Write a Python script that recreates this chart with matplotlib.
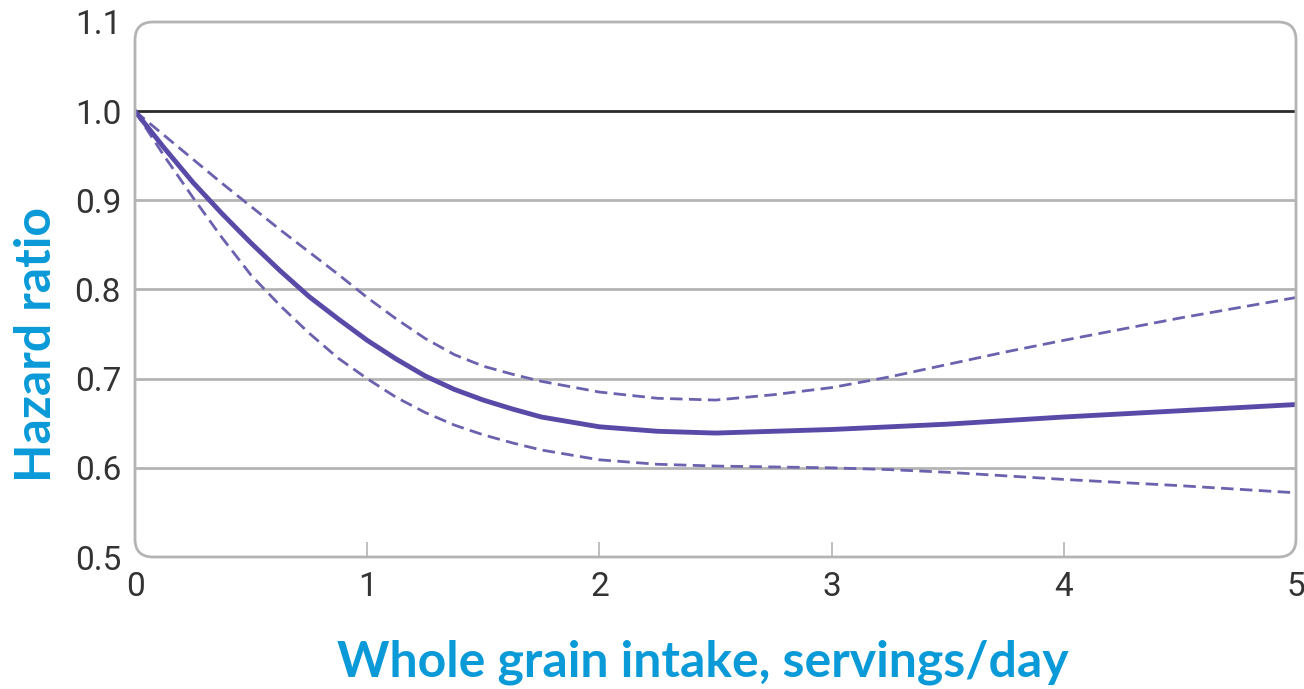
import matplotlib
matplotlib.use("Agg")
import matplotlib.pyplot as plt
from matplotlib.patches import FancyBboxPatch
from matplotlib.transforms import IdentityTransform

# values
intake = [0, 0.125, 0.25, 0.375, 0.5, 0.625, 0.75, 0.875, 1.0, 1.125, 1.25, 1.375, 1.5,
          1.625, 1.75, 2.0, 2.25, 2.5, 2.75, 3.0, 3.25, 3.5, 3.75, 4.0, 4.5, 5.0]
hr = [1.0, 0.959, 0.920, 0.885, 0.852, 0.821, 0.792, 0.767, 0.743, 0.722, 0.703, 0.688, 0.676,
      0.666, 0.657, 0.646, 0.641, 0.639, 0.641, 0.643, 0.646, 0.649, 0.653, 0.657, 0.664, 0.671]
upper = [1.0, 0.973, 0.946, 0.919, 0.893, 0.867, 0.842, 0.817, 0.791, 0.767, 0.745, 0.727, 0.714,
         0.705, 0.697, 0.685, 0.678, 0.676, 0.682, 0.690, 0.702, 0.716, 0.730, 0.743, 0.768, 0.791]
lower = [1.0, 0.950, 0.903, 0.858, 0.816, 0.782, 0.751, 0.723, 0.700, 0.679, 0.662, 0.648, 0.637,
         0.628, 0.620, 0.609, 0.604, 0.602, 0.601, 0.600, 0.598, 0.595, 0.591, 0.587, 0.580, 0.572]

x_ticks = [0, 1, 2, 3, 4, 5]
y_ticks = [0.5, 0.6, 0.7, 0.8, 0.9, 1.0, 1.1]

purple = "#5a4aa8"
dash_purple = "#6a62ae"
blue = "#0a9ad8"
grey = "#b4b4b4"

fig = plt.figure(figsize=(13.04, 6.89), dpi=100)
ax = fig.add_axes([135 / 1304, 1 - 557 / 689, (1296 - 135) / 1304, (557 - 22) / 689])

for y in [0.6, 0.7, 0.8, 0.9]:
    ax.axhline(y, color=grey, lw=2, zorder=1)
ax.axhline(1.0, color="#2a2a2a", lw=2, zorder=2)

ax.plot(intake, upper, color=dash_purple, lw=2, ls=(0, (4.5, 2.3)), zorder=3)
ax.plot(intake, lower, color=dash_purple, lw=2, ls=(0, (4.5, 2.3)), zorder=3)
ax.plot(intake, hr, color=purple, lw=3.5, zorder=4, solid_capstyle="round",
        solid_joinstyle="round")

ax.set_xlim(0, 5)
ax.set_ylim(0.5, 1.1)
ax.set_xticks(x_ticks)
ax.set_yticks(y_ticks)
ax.set_xticklabels([str(v) for v in x_ticks], family="Roboto")
ax.set_yticklabels([f"{v:.1f}" for v in y_ticks], family="Roboto")
for s in ax.spines.values():
    s.set_visible(False)
ax.patch.set_visible(False)
ax.tick_params(axis="y", length=0, pad=10, labelsize=24, labelcolor="#333333")
ax.tick_params(axis="x", direction="in", length=11, width=1.2, color=grey,
               pad=10, labelsize=24, labelcolor="#333333")
ax.xaxis.get_major_ticks()[0].tick1line.set_visible(False)
ax.xaxis.get_major_ticks()[-1].tick1line.set_visible(False)

# rounded frame around plot area
frame = FancyBboxPatch((135, 689 - 557), 1296 - 135, 557 - 22,
                       boxstyle="round,pad=0,rounding_size=18",
                       transform=IdentityTransform(), fill=False,
                       edgecolor=grey, lw=2)
fig.add_artist(frame)

fig.text(703 / 1304, 1 - 662 / 689, "Whole grain intake, servings/day",
         ha="center", va="center", fontsize=36, fontweight="bold",
         color=blue, family="Lato")
fig.text(37 / 1304, 1 - 345 / 689, "Hazard ratio", rotation=90,
         ha="center", va="center", fontsize=36, fontweight="bold",
         color=blue, family="Lato")

fig.savefig("out.png", dpi=100)
